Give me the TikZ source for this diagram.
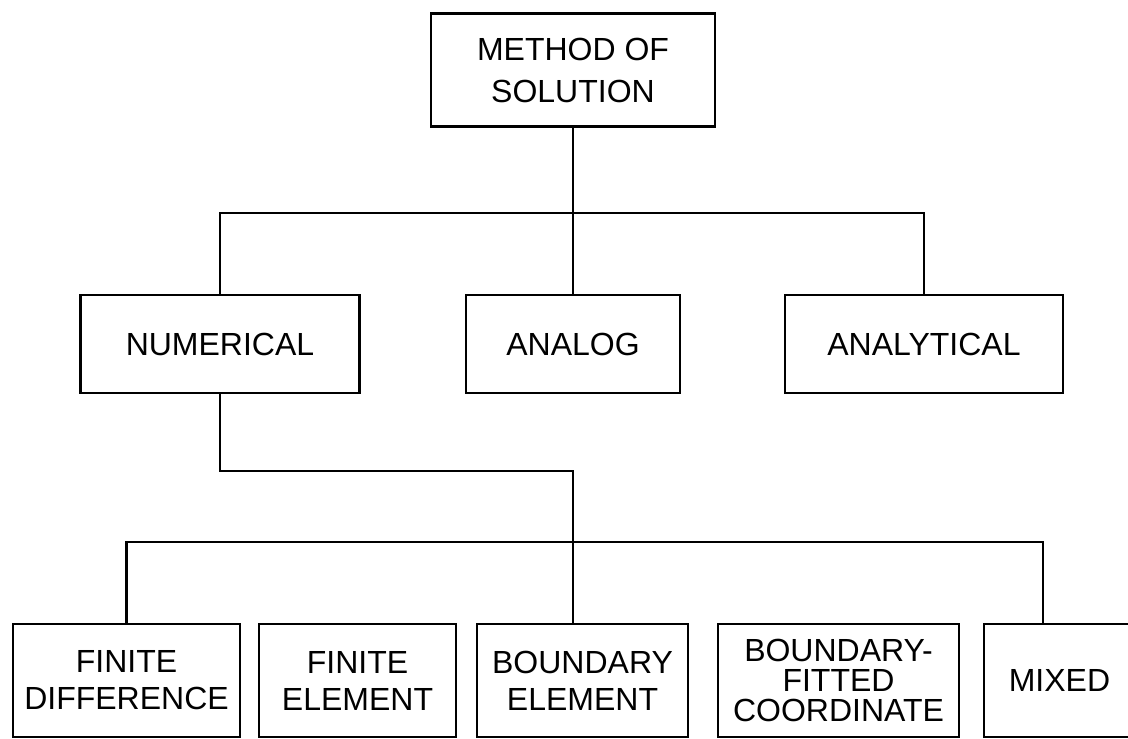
\documentclass[tikz,border=0pt]{standalone}
\usepackage{fontspec}
\setmainfont{Liberation Sans}
\usepackage{tikz}
\usetikzlibrary{positioning, calc}

\begin{document}
\begin{tikzpicture}[x=1pt, y=-1pt,
    box/.style={draw, line width=2.2pt, align=center, inner sep=0pt, font=\fontsize{32}{37}\selectfont},
    link/.style={line width=2.2pt}]
  \useasboundingbox (0,0) rectangle (1128,739);

  % top level
  \node[box, minimum width=284pt, minimum height=113pt, font=\fontsize{32}{42}\selectfont] (method) at (573,70) {METHOD OF\\SOLUTION};

  % second level
  \node[box, minimum width=279pt, minimum height=98pt] (numerical) at (220,344) {NUMERICAL};
  \node[box, minimum width=214pt, minimum height=98pt] (analog) at (573,344) {ANALOG};
  \node[box, minimum width=278pt, minimum height=98pt] (analytical) at (924,344) {ANALYTICAL};

  % numerical methods
  \node[box, minimum width=227pt, minimum height=113pt] (findiff) at (126.5,680.5) {FINITE\\DIFFERENCE};
  \node[box, minimum width=197pt, minimum height=113pt] (finelem) at (357.5,680.5) {FINITE\\ELEMENT};
  \node[box, minimum width=211pt, minimum height=113pt] (bndelem) at (582.5,680.5) {BOUNDARY\\ELEMENT};
  \node[box, minimum width=241pt, minimum height=113pt, font=\fontsize{32}{30}\selectfont] (bfc) at (838.5,680.5) {BOUNDARY-\\FITTED\\COORDINATE};
  \node[box, minimum width=151pt, minimum height=113pt] (mixed) at (1059.5,680.5) {MIXED};

  \coordinate (bus1) at (0,213);
  \coordinate (turn) at (0,471);
  \coordinate (bus2) at (0,542);
  \coordinate (tap) at ($(mixed.north west)!0.39!(mixed.north east)$);

  \draw[link] (method.south) -- (method.south |- bus1);
  \draw[link] (numerical.north) |- (analytical.north |- bus1) -- (analytical.north);
  \draw[link] (analog.north) -- (analog.north |- bus1);

  \draw[link] (numerical.south) |- (method.south |- turn) -- (method.south |- bndelem.north);
  \draw[link] (findiff.north) |- (tap |- bus2) -- (tap);
\end{tikzpicture}
\end{document}
